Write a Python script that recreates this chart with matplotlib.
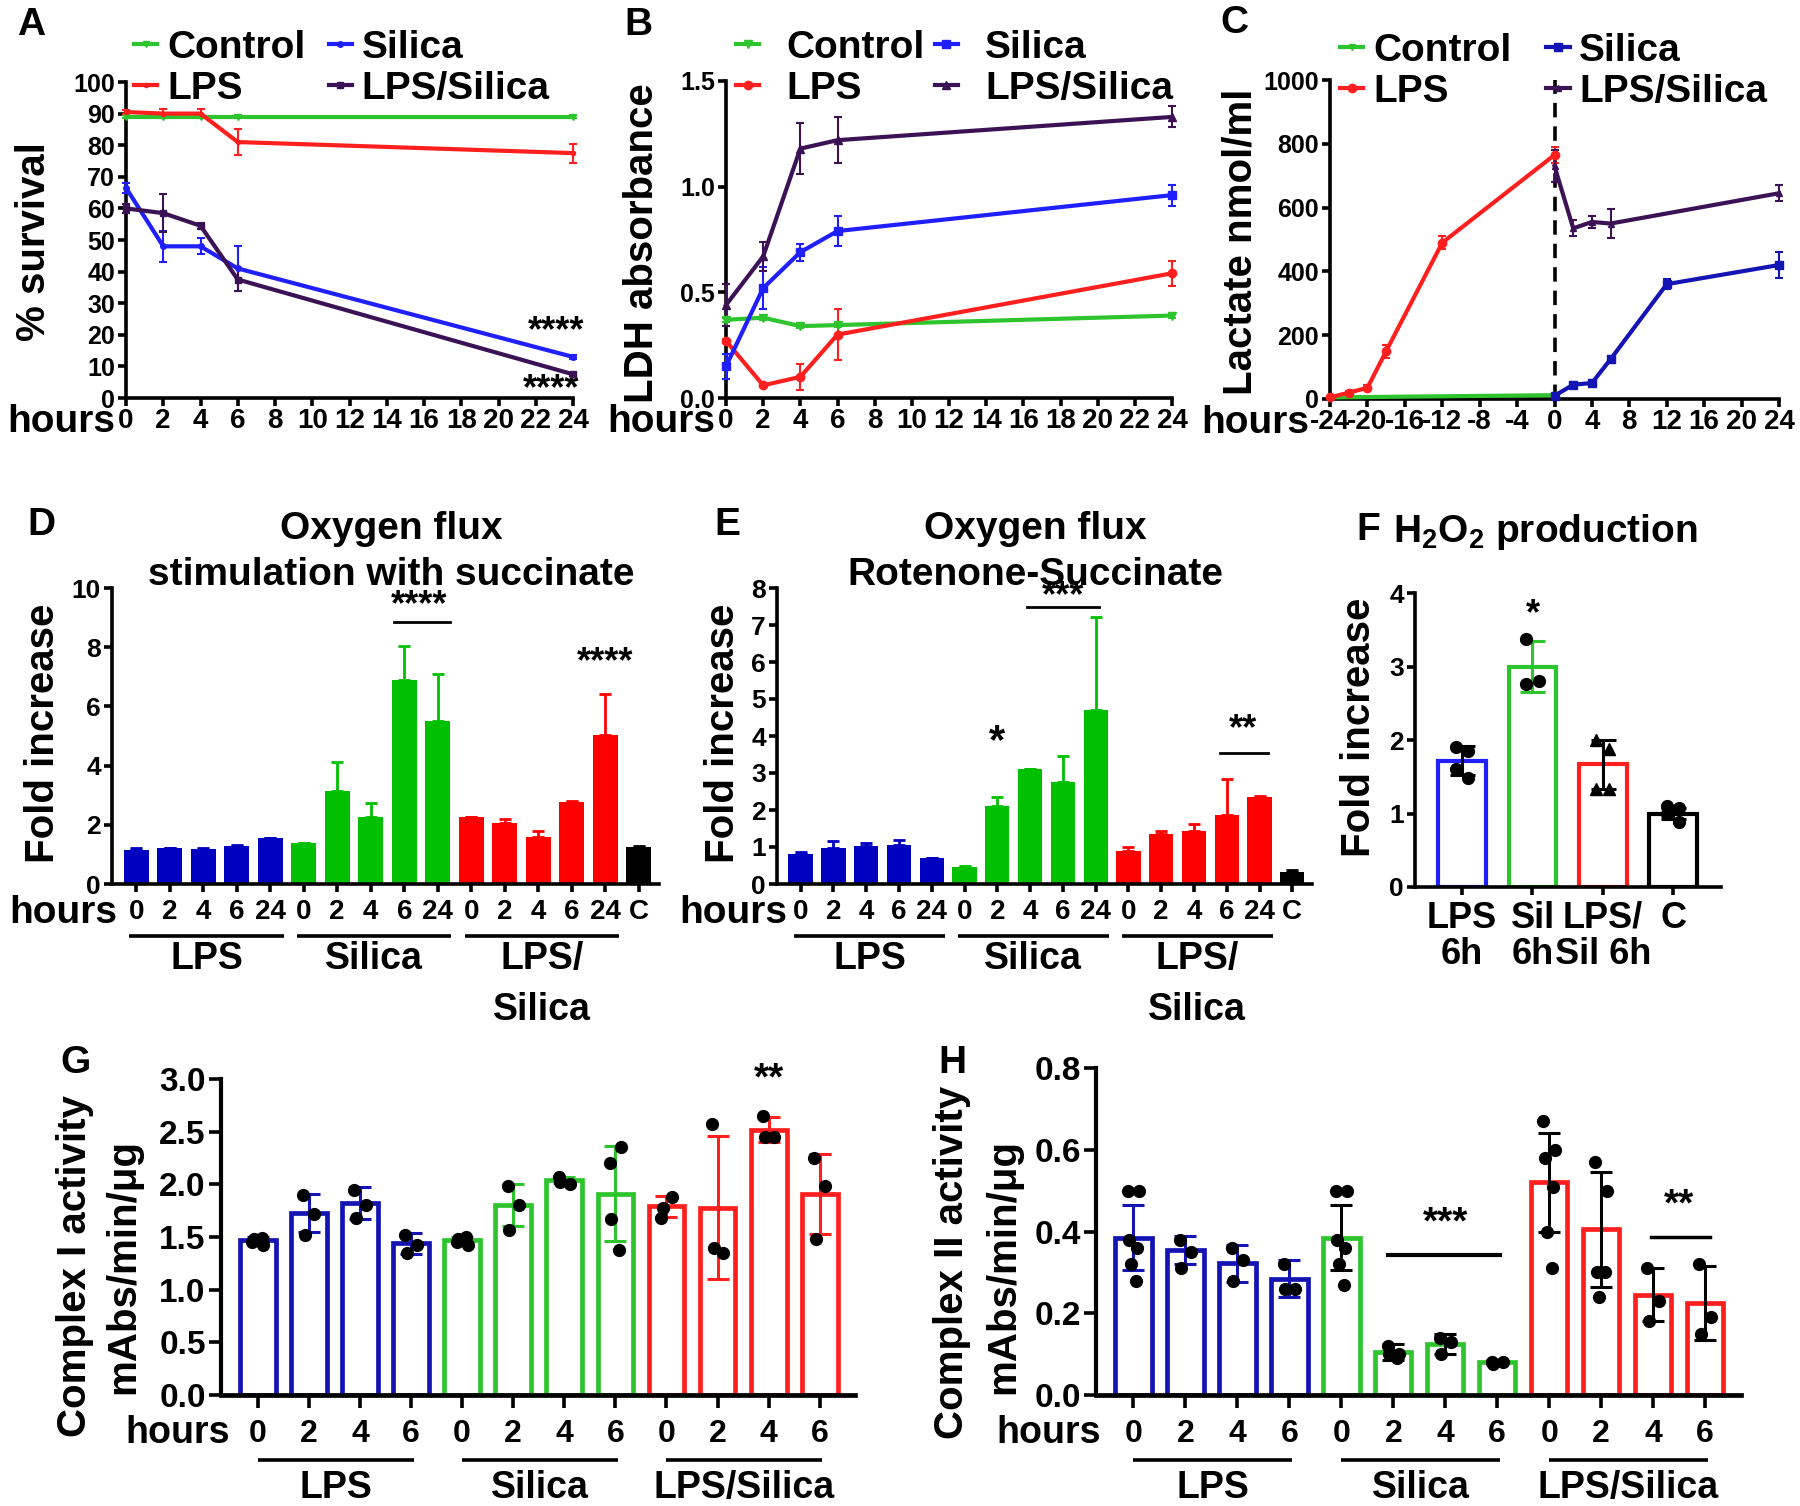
import numpy as np
import matplotlib.pyplot as plt
from matplotlib import transforms

plt.rcParams['font.family'] = ['Liberation Sans', 'DejaVu Sans']
plt.rcParams['font.weight'] = 'bold'
plt.rcParams['axes.unicode_minus'] = False
plt.rcParams['mathtext.fontset'] = 'custom'
plt.rcParams['mathtext.rm'] = 'Liberation Sans:bold'
plt.rcParams['mathtext.bf'] = 'Liberation Sans:bold'
plt.rcParams['mathtext.it'] = 'Liberation Sans:bold'

# ---------------------------------------------------------------- data
hours = [0, 2, 4, 6, 24]
series_names = ['Control', 'LPS', 'Silica', 'LPS/Silica']

# A: % survival
surv_control = [89, 89, 89, 89, 89]
surv_control_err = [0.5, 0.5, 0.5, 0.5, 0.5]
surv_lps = [90.5, 90, 90, 81, 77.5]
surv_lps_err = [0.5, 1.5, 1.5, 4, 3]
surv_silica = [66.5, 48, 48, 41, 13]
surv_silica_err = [1.5, 5, 2.5, 7, 0.5]
surv_lpssil = [60, 58.5, 54.5, 37.5, 7.5]
surv_lpssil_err = [1.5, 6, 1, 3.5, 0.5]

# B: LDH absorbance
ldh_control = [0.37, 0.38, 0.34, 0.345, 0.39]
ldh_control_err = [0.01, 0.01, 0.01, 0.01, 0.01]
ldh_lps = [0.27, 0.06, 0.10, 0.30, 0.59]
ldh_lps_err = [0.01, 0.01, 0.06, 0.12, 0.06]
ldh_silica = [0.15, 0.52, 0.69, 0.79, 0.96]
ldh_silica_err = [0.06, 0.10, 0.04, 0.07, 0.05]
ldh_lpssil = [0.44, 0.67, 1.18, 1.22, 1.33]
ldh_lpssil_err = [0.10, 0.07, 0.12, 0.11, 0.05]

# C: lactate
lac_control_h = [-24, 0]
lac_control = [5, 12]
lac_lps_h = [-24, -22, -20, -18, -12, 0]
lac_lps = [5, 20, 35, 150, 490, 765]
lac_lps_err = [3, 5, 8, 20, 20, 25]
lac_silica_h = [0, 2, 4, 6, 12, 24]
lac_silica = [10, 45, 50, 125, 360, 420]
lac_silica_err = [5, 8, 8, 10, 15, 40]
lac_lpssil_h = [0, 2, 4, 6, 24]
lac_lpssil = [730, 535, 555, 550, 645]
lac_lpssil_err = [50, 25, 20, 45, 25]
lac_ticks = [-24, -20, -16, -12, -8, -4, 0, 4, 8, 12, 16, 20, 24]

# D: oxygen flux, succinate
succ_lps = [1.15, 1.2, 1.18, 1.27, 1.55]
succ_lps_err = [0.05, 0.02, 0.03, 0.05, 0.0]
succ_silica = [1.38, 3.15, 2.25, 6.9, 5.5]
succ_silica_err = [0.0, 0.97, 0.5, 1.15, 1.58]
succ_lpssil = [2.25, 2.05, 1.6, 2.78, 5.05]
succ_lpssil_err = [0.0, 0.15, 0.18, 0.02, 1.37]
succ_ctrl = 1.25
succ_ctrl_err = 0.02

# E: oxygen flux, rotenone-succinate
rot_lps = [0.82, 0.97, 1.03, 1.06, 0.7]
rot_lps_err = [0.04, 0.18, 0.08, 0.14, 0.0]
rot_silica = [0.45, 2.12, 3.12, 2.75, 4.7]
rot_silica_err = [0.03, 0.22, 0.0, 0.7, 2.52]
rot_lpssil = [0.9, 1.35, 1.42, 1.87, 2.35]
rot_lpssil_err = [0.1, 0.08, 0.2, 0.97, 0.02]
rot_ctrl = 0.32
rot_ctrl_err = 0.05

flux_ticks = ['0', '2', '4', '6', '24'] * 3 + ['C']
flux_groups = ['LPS', 'Silica', 'LPS/\nSilica']

# F: H2O2 production
h2o2_labels = ['LPS\n6h', 'Sil\n6h', 'LPS/\nSil 6h', 'C']
h2o2_mean = [1.72, 3.0, 1.67, 1.0]
h2o2_sd = [0.2, 0.35, 0.33, 0.08]
h2o2_points = [[1.9, 1.85, 1.6, 1.48], [3.38, 2.8, 2.76],
               [2.0, 1.88, 1.33, 1.33], [1.1, 1.08, 1.0, 0.88]]

# G: complex I activity
c1_mean = [1.47, 1.73, 1.82, 1.44, 1.47, 1.8, 2.04, 1.91, 1.79, 1.78, 2.52, 1.91]
c1_sd = [0.03, 0.18, 0.15, 0.1, 0.03, 0.2, 0.03, 0.45, 0.1, 0.68, 0.12, 0.38]
c1_points = [[1.45, 1.42, 1.48, 1.49], [1.9, 1.72, 1.52], [1.95, 1.8, 1.68],
             [1.52, 1.42, 1.35], [1.45, 1.42, 1.48, 1.5], [1.98, 1.8, 1.57],
             [2.07, 2.0, 2.02], [2.2, 2.35, 1.67, 1.38], [1.68, 1.88, 1.78],
             [2.57, 1.35, 1.4], [2.65, 2.45, 2.45], [2.25, 1.98, 1.48]]

# H: complex II activity
c2_mean = [0.385, 0.355, 0.322, 0.285, 0.385, 0.105, 0.125, 0.08, 0.52, 0.405, 0.245, 0.225]
c2_sd = [0.08, 0.035, 0.045, 0.045, 0.08, 0.02, 0.025, 0.005, 0.12, 0.14, 0.065, 0.09]
c2_points = [[0.5, 0.5, 0.38, 0.36, 0.32, 0.28], [0.38, 0.35, 0.31],
             [0.36, 0.33, 0.28], [0.32, 0.26, 0.26],
             [0.5, 0.5, 0.38, 0.36, 0.32, 0.27], [0.12, 0.1, 0.1, 0.09],
             [0.14, 0.13, 0.1], [0.08, 0.08, 0.075],
             [0.67, 0.6, 0.58, 0.51, 0.4, 0.31], [0.57, 0.5, 0.3, 0.3, 0.24],
             [0.31, 0.23, 0.18], [0.32, 0.19, 0.15]]

complex_ticks = ['0', '2', '4', '6'] * 3
complex_groups = ['LPS', 'Silica', 'LPS/Silica']

# ---------------------------------------------------------------- colours
GREEN = '#2ec42e'
RED = '#ff1f1f'
BLUE = '#1f1fff'
PURPLE = '#3c1257'
DBLUE = '#1414b4'
BAR_BLUE = '#0000c0'
BAR_GREEN = '#00c000'
BAR_RED = '#ff0000'

W, H = 1800, 1506
fig = plt.figure(figsize=(W / 100, H / 100), dpi=100)


def fy(y):
    return 1 - y / H


def ax_at(l, t, r, b):
    ax = fig.add_axes([l / W, 1 - b / H, (r - l) / W, (b - t) / H])
    for s in ('top', 'right'):
        ax.spines[s].set_visible(False)
    for s in ('left', 'bottom'):
        ax.spines[s].set_linewidth(2.6)
    ax.tick_params(width=2.6, length=6)
    return ax


def ftext(x, y, s, size, **kw):
    kw.setdefault('ha', 'center')
    kw.setdefault('va', 'center')
    fig.text(x / W, fy(y), s, fontsize=size, fontweight='bold', **kw)


def group_lines(ax, spans, names, yline, ytext, size, step=51):
    # ytext is the baseline of the first line of each label
    tr = transforms.blended_transform_factory(ax.transData, fig.transFigure)
    for (a, b), name in zip(spans, names):
        ax.plot([a, b], [fy(yline)] * 2, color='black', lw=2.6,
                transform=tr, clip_on=False, solid_capstyle='butt')
        for k, part in enumerate(name.split('\n')):
            ax.text((a + b) / 2, fy(ytext + k * step), part, transform=tr,
                    ha='center', va='baseline', fontsize=size, fontweight='bold')


def line_series(ax, x, y, err, color, marker, ms=5):
    c = ax.errorbar(x, y, yerr=err, color=color, lw=3, marker=marker, ms=ms,
                    elinewidth=1.5, capsize=3, capthick=1.5,
                    clip_on=False, zorder=3)
    for a in c.lines[1] + c.lines[2]:
        a.set_clip_on(False)
    return c[0]


def top_legend(ax, handles, x, y, pad, colsp):
    ax.legend(handles, series_names, ncol=2, loc='upper left',
              bbox_to_anchor=(x / W, fy(y)), bbox_transform=fig.transFigure,
              frameon=False, handlelength=0.6,
              handletextpad=pad, columnspacing=colsp, labelspacing=0.12,
              borderpad=0, borderaxespad=0, prop={'weight': 'bold', 'size': 28})


# ---------------------------------------------------------------- A
ax = ax_at(126, 82, 573, 398)
hA = [line_series(ax, hours, surv_control, surv_control_err, GREEN, 'v', 4),
      line_series(ax, hours, surv_lps, surv_lps_err, RED, 'o', 3),
      line_series(ax, hours, surv_silica, surv_silica_err, BLUE, 'o', 4),
      line_series(ax, hours, surv_lpssil, surv_lpssil_err, PURPLE, 's', 4)]
ax.set_xlim(0, 24)
ax.set_ylim(0, 100)
ax.set_xticks(range(0, 25, 2))
ax.set_yticks(range(0, 101, 10))
ax.tick_params(axis='x', labelsize=20, pad=1.5)
ax.tick_params(axis='y', labelsize=18, pad=2)
ax.text(23.1, 21, '****', ha='center', va='center', fontsize=26)
ax.text(22.8, 2.5, '****', ha='center', va='center', fontsize=26)
top_legend(ax, hA, 134, 30, 0.25, 0.6)
ftext(115, 422, 'hours', 28, ha='right')
ftext(34, 242, '% survival', 29, rotation=90)
ftext(31, 25, 'A', 28)

# ---------------------------------------------------------------- B
ax = ax_at(726, 81, 1172, 398)
hB = [line_series(ax, hours, ldh_control, ldh_control_err, GREEN, 'v', 6),
      line_series(ax, hours, ldh_lps, ldh_lps_err, RED, 'o', 6),
      line_series(ax, hours, ldh_silica, ldh_silica_err, BLUE, 's', 6),
      line_series(ax, hours, ldh_lpssil, ldh_lpssil_err, PURPLE, '^', 6)]
ax.set_xlim(0, 24)
ax.set_ylim(0, 1.5)
ax.set_xticks(range(0, 25, 2))
ax.set_yticks([0, 0.5, 1.0, 1.5])
ax.set_yticklabels(['0.0', '0.5', '1.0', '1.5'])
ax.tick_params(axis='x', labelsize=20, pad=1.5)
ax.tick_params(axis='y', labelsize=18, pad=2)
top_legend(ax, hB, 736, 30, 0.7, 0.25)
ftext(715, 422, 'hours', 28, ha='right')
ftext(642, 243, 'LDH absorbance', 29, rotation=90)
ftext(638, 25, 'B', 28)

# ---------------------------------------------------------------- C
ax = ax_at(1330, 80, 1779, 399)
hC = [line_series(ax, lac_control_h, lac_control, None, GREEN, 'v', 5),
      line_series(ax, lac_lps_h, lac_lps, lac_lps_err, RED, 'o', 6),
      line_series(ax, lac_silica_h, lac_silica, lac_silica_err, DBLUE, 's', 6),
      line_series(ax, lac_lpssil_h, lac_lpssil, lac_lpssil_err, PURPLE, '^', 5)]
ax.axvline(0, color='black', lw=2.6, ls=(0, (4, 2.5)), zorder=1)
ax.set_xlim(-24, 24)
ax.set_ylim(0, 1000)
ax.set_xticks(lac_ticks)
ax.set_yticks(range(0, 1001, 200))
ax.tick_params(axis='x', labelsize=20, pad=1.5)
ax.tick_params(axis='y', labelsize=18, pad=2)
top_legend(ax, hC, 1340, 33, 0.25, 0.9)
ftext(1309, 423, 'hours', 28, ha='right')
ftext(1240, 242, 'Lactate nmol/ml', 29, rotation=90)
ftext(1234, 23, 'C', 28)


# ---------------------------------------------------------------- D / E
def flux_panel(ax, groups, errs, ctrl, ctrl_err, ymax, ystep):
    x0 = 0
    spans = []
    for vals, err, col in zip(groups, errs, [BAR_BLUE, BAR_GREEN, BAR_RED]):
        x = np.arange(len(vals)) + x0
        ax.bar(x, vals, width=0.74, color=col, zorder=2)
        ax.errorbar(x, vals, yerr=[np.zeros(len(vals)), err], fmt='none',
                    ecolor=col, elinewidth=2, capsize=4, capthick=2, zorder=1)
        spans.append((x0 - 0.2, x0 + len(vals) - 0.6))
        x0 += len(vals)
    ax.bar([x0], [ctrl], width=0.74, color='black', zorder=2)
    ax.errorbar([x0], [ctrl], yerr=[[0], [ctrl_err]], fmt='none', ecolor='black',
                elinewidth=2, capsize=4, capthick=2)
    ax.set_xlim(-0.72, x0 + 0.6)
    ax.set_ylim(0, ymax)
    ax.set_yticks(np.arange(0, ymax + 0.01, ystep))
    ax.set_xticks(range(x0 + 1))
    ax.set_xticklabels(flux_ticks)
    ax.tick_params(axis='x', labelsize=20, pad=5)
    ax.tick_params(axis='y', labelsize=19, pad=2)
    return spans


ax = ax_at(112, 588, 659, 884)
spans = flux_panel(ax, [succ_lps, succ_silica, succ_lpssil],
                   [succ_lps_err, succ_silica_err, succ_lpssil_err],
                   succ_ctrl, succ_ctrl_err, 10, 2)
ax.plot([7.7, 9.35], [8.85, 8.85], color='black', lw=2)
ax.text(8.45, 8.8, '****', ha='center', va='bottom', fontsize=26)
ax.text(14.0, 6.9, '****', ha='center', va='bottom', fontsize=26)
group_lines(ax, spans, flux_groups, 936, 969, 27)
ftext(117, 913, 'hours', 28, ha='right')
ftext(43, 733, 'Fold increase', 29, rotation=90)
ftext(391, 529, 'Oxygen flux', 28)
ftext(391, 575, 'stimulation with succinate', 28)
ftext(41, 525, 'D', 28)

ax = ax_at(777, 588, 1312, 884)
spans = flux_panel(ax, [rot_lps, rot_silica, rot_lpssil],
                   [rot_lps_err, rot_silica_err, rot_lpssil_err],
                   rot_ctrl, rot_ctrl_err, 8, 1)
ax.text(6.0, 3.3, '*', ha='center', va='bottom', fontsize=30)
ax.plot([6.9, 9.1], [7.5, 7.5], color='black', lw=2, clip_on=False)
ax.text(8.0, 7.3, '***', ha='center', va='bottom', fontsize=26)
ax.plot([12.8, 14.25], [3.55, 3.55], color='black', lw=2)
ax.text(13.5, 3.7, '**', ha='center', va='bottom', fontsize=26)
group_lines(ax, spans, flux_groups, 936, 969, 27)
ftext(787, 913, 'hours', 28, ha='right')
ftext(723, 733, 'Fold increase', 29, rotation=90)
ftext(1035, 529, 'Oxygen flux', 28)
ftext(1035, 575, 'Rotenone-Succinate', 28)
ftext(727, 525, 'E', 28)

# ---------------------------------------------------------------- F
ax = ax_at(1415, 593, 1721, 887)
edge_cols = [BLUE, GREEN, RED, 'black']
err_cols = ['black', GREEN, 'black', 'black']
point_marks = ['o', 'o', '^', 'o']
for i, (m, sd, pts) in enumerate(zip(h2o2_mean, h2o2_sd, h2o2_points)):
    ax.bar(i, m, width=0.68, facecolor='white', edgecolor=edge_cols[i], lw=3, zorder=1)
    ax.errorbar(i, m, yerr=sd, fmt='none', ecolor=err_cols[i], elinewidth=2.2,
                capsize=9, capthick=2.2, zorder=2)
    offs = [0.09 * (-1) ** (k + 1) for k in range(len(pts))]
    ax.plot(np.array(offs) + i, pts, ls='none', marker=point_marks[i], ms=8.5,
            color='black', zorder=3)
ax.text(1, 3.7, '*', ha='center', va='center', fontsize=26)
ax.set_xlim(-0.67, 3.68)
ax.set_ylim(0, 4)
ax.set_yticks(range(5))
ax.set_xticks(range(4))
ax.set_xticklabels(h2o2_labels, linespacing=1.05)
ax.tick_params(axis='x', labelsize=26, pad=4)
ax.tick_params(axis='y', labelsize=19, pad=2)
ftext(1359, 727, 'Fold increase', 29, rotation=90)
ftext(1545, 532, r'H$_\mathbf{2}$O$_\mathbf{2}$ production', 28)
ftext(1368, 530, 'F', 28)


# ---------------------------------------------------------------- G / H
def complex_panel(ax, means, sds, pts_all, err_cols, ymax, ystep, fmt):
    cols = [DBLUE] * 4 + [GREEN] * 4 + [RED] * 4
    for i, (m, sd, pts) in enumerate(zip(means, sds, pts_all)):
        ax.bar(i, m, width=0.7, facecolor='white', edgecolor=cols[i], lw=3.4, zorder=1)
        ax.errorbar(i, m, yerr=sd, fmt='none', ecolor=err_cols[i], elinewidth=2.2,
                    capsize=8, capthick=2.2, zorder=2)
        offs = [0.11 * (-1) ** (k + 1) * (1 - 0.3 * (k // 2)) for k in range(len(pts))]
        ax.plot(np.array(offs) + i, pts, ls='none', marker='o', ms=8.5,
                color='black', zorder=3, clip_on=False)
    ax.set_xlim(-0.72, 11.69)
    ax.set_ylim(0, ymax)
    ticks = np.arange(0, ymax + 1e-6, ystep)
    ax.set_yticks(ticks)
    ax.set_yticklabels([fmt % t for t in ticks])
    ax.set_xticks(range(12))
    ax.set_xticklabels(complex_ticks)
    ax.tick_params(axis='x', labelsize=23, pad=8, length=9)
    ax.tick_params(axis='y', labelsize=24, pad=2, length=9)
    ax.spines['left'].set_linewidth(3)
    ax.spines['bottom'].set_linewidth(3.4)


ax = ax_at(221, 1079, 855, 1395)
complex_panel(ax, c1_mean, c1_sd, c1_points,
              [DBLUE] * 4 + [GREEN] * 4 + [RED] * 4, 3.0, 0.5, '%.1f')
ax.text(10, 2.82, '**', ha='center', va='bottom', fontsize=28)
group_lines(ax, [(0, 3.05), (4, 7.05), (8, 11.05)], complex_groups, 1460, 1498, 27)
ftext(230, 1433, 'hours', 27, ha='right')
ftext(75, 1266, 'Complex I activity', 29, rotation=90)
ftext(123, 1266, 'mAbs/min/μg', 29, rotation=90)
ftext(75, 1063, 'G', 28)

ax = ax_at(1096, 1068, 1741, 1395)
complex_panel(ax, c2_mean, c2_sd, c2_points,
              [DBLUE] * 4 + ['black'] * 8, 0.8, 0.2, '%.1f')
ax.plot([4.9, 7.05], [0.343, 0.343], color='black', lw=3)
ax.text(6.0, 0.375, '***', ha='center', va='bottom', fontsize=28)
ax.plot([9.95, 11.1], [0.386, 0.386], color='black', lw=2.5)
ax.text(10.5, 0.42, '**', ha='center', va='bottom', fontsize=28)
group_lines(ax, [(0, 3.05), (4, 7.05), (8, 11.05)], complex_groups, 1460, 1498, 27)
ftext(1101, 1433, 'hours', 27, ha='right')
ftext(952, 1262, 'Complex II activity', 29, rotation=90)
ftext(1003, 1267, 'mAbs/min/μg', 29, rotation=90)
ftext(952, 1063, 'H', 28)

fig.savefig('out.png', dpi=100)
